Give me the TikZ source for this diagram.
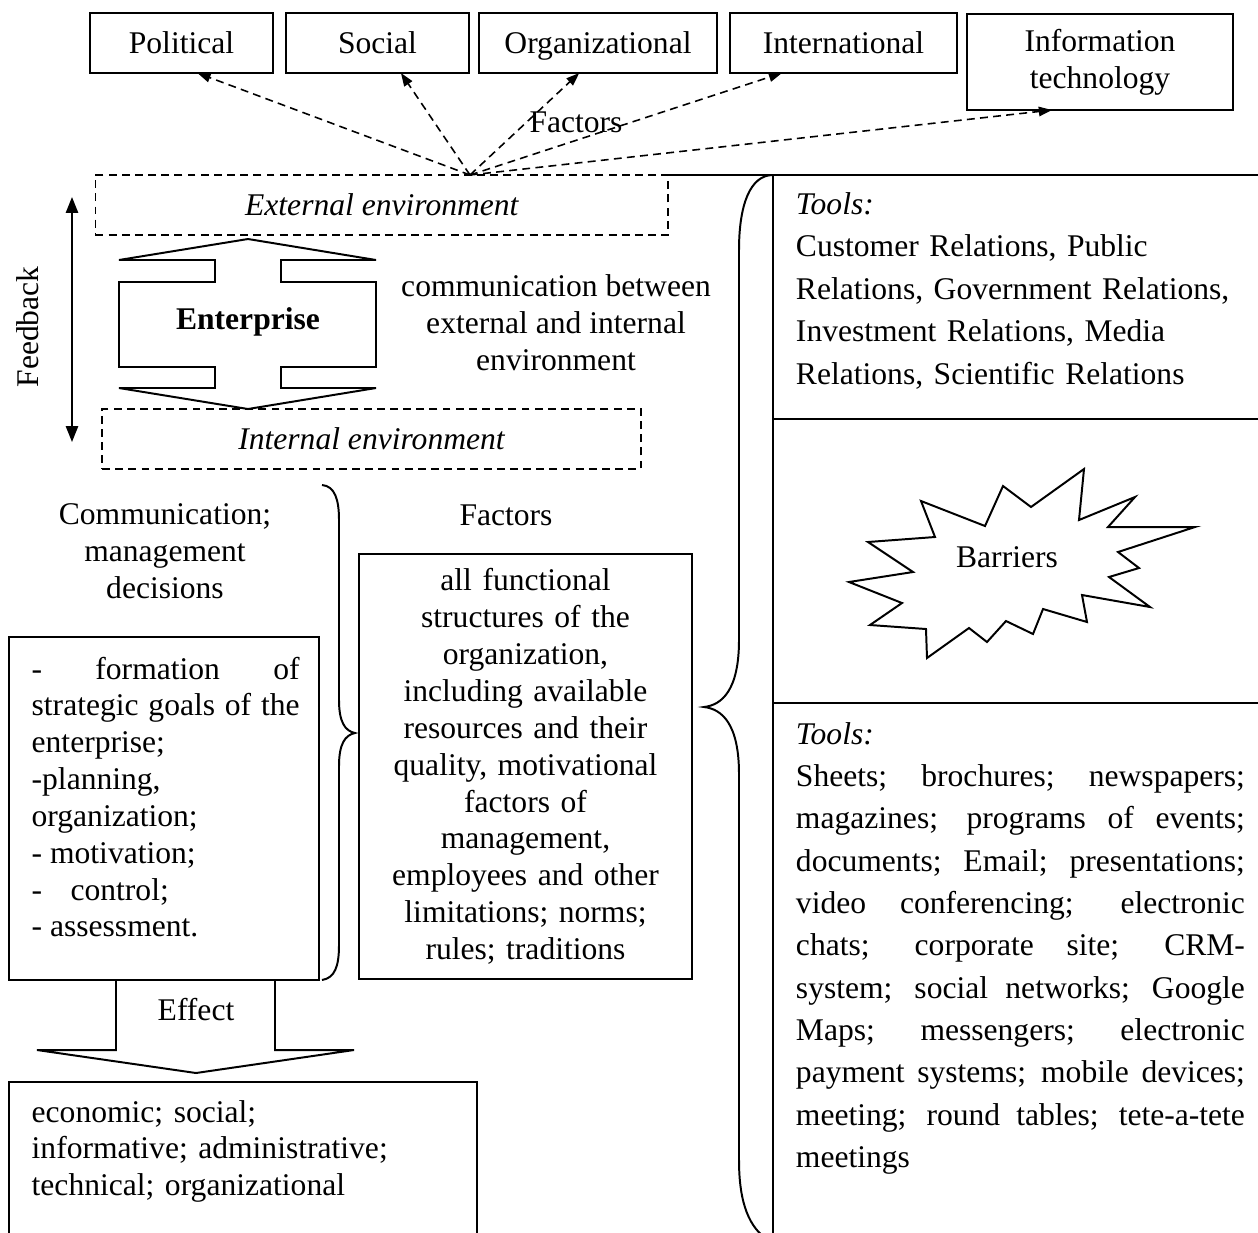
\documentclass[tikz,border=0pt]{standalone}
\usepackage{fontspec}
\setmainfont{Liberation Serif}
\usepackage{xcolor}
\usepackage[]{tikz}
\usetikzlibrary{positioning,calc}
\usetikzlibrary{arrows.meta}
\tikzset{factor node/.style={draw,line width=0.75pt,minimum height=22.8pt,inner sep=0pt,outer sep=0pt,text height=0.8em,text depth=0.14em}}
\tikzset{env node/.style={draw,dash pattern=on 3pt off 2pt,line width=0.6pt,minimum height=22.8pt,inner sep=0pt,outer sep=0pt}}
\tikzset{panel node/.style={draw,line width=0.75pt,minimum width=185.8pt,inner sep=0pt,outer sep=0pt,anchor=north west}}
\tikzset{text node/.style={inner sep=0pt,anchor=base west}}
\tikzset{factor line/.style={dash pattern=on 3pt off 2pt,line width=0.6pt,-{Triangle[length=5pt,width=3.6pt]}}}

\begin{document}
\fontsize{12}{14}\selectfont
\begin{tikzpicture}[x=0.38pt,y=-0.38pt,line width=0.75pt]
      \useasboundingbox (0,0) rectangle (1258,1232);
      % factors
      \node[factor node, minimum width=69.5pt] (pol) at (181.5,43) {Political};
      \node[factor node, minimum width=69.5pt] (soc) at (377.5,43) {Social};
      \node[factor node, minimum width=90.4pt] (org) at (598,43) {Organizational};
      \node[factor node, minimum width=86.3pt] (int) at (843.5,43) {International};
      \node[factor node, minimum width=101pt, minimum height=36.5pt, align=center, text height=, text depth=] (it) at (1100,62) {Information\\technology};
      \coordinate (fo) at (470,175);
      \draw[factor line] (fo) -- (pol.-62);
      \draw[factor line] (fo) -- (soc.-52);
      \draw[factor line] (fo) -- (org.-122);
      \draw[factor line] (fo) -- (int.-154);
      \draw[factor line] (fo) -- (it.-135.6);
      \node (fl) at (576,122) {Factors};

      % environment
      \node[env node, minimum width=217.6pt, font=\itshape] (ext) at (381.8,205) {External environment};
      \node[env node, minimum width=204.8pt, font=\itshape] (inn) at (371.5,439) {Internal environment};
      \node[font=\bfseries] (ent) at (248,322) {Enterprise};
      \draw (248,239) -- (376,260) -- (281,260) -- (281,282) -- (376,282) -- (376,367) -- (281,367)
            -- (281,388) -- (376,388) -- (248,409) -- (119,388) -- (215,388) -- (215,367) -- (119,367)
            -- (119,282) -- (215,282) -- (215,260) -- (119,260) -- cycle;
      \node[align=center] (comm) at (556,323) {communication between\\external and internal\\environment};
      \coordinate (fbtop) at (72,197);
      \coordinate (fbbot) at (72,442);
      \draw[{Triangle[length=6pt,width=4.6pt]}-{Triangle[length=6pt,width=4.6pt]}] (fbtop) -- (fbbot);
      \node[rotate=90] (fb) at (28,327) {Feedback};

      % left part
      \node[align=center] (dec) at (165,551) {Communication;\\management\\decisions};
      \node[draw, minimum width=117.7pt, minimum height=130.3pt, inner sep=0pt, outer sep=0pt] (lbox) at (164.2,808.5) {};
      \node[text node, text width=101.8pt, align=justify] (ltext) at (30.7,679)
            {- formation of\linebreak strategic goals of the\linebreak enterprise;\\ -planning,\\ organization;\\
             - motivation;\\ -\hspace{0.9em}control;\\ - assessment.};
      \draw (322,485) .. controls (335,486) and (339,500) .. (339,520) -- (339,700)
            .. controls (339,722) and (345,731) .. (355,733) .. controls (345,735) and (339,744) .. (339,766)
            -- (339,945) .. controls (339,966) and (335,978) .. (322,980);
      \node (fac) at (506,515) {Factors};
      \node[draw, text width=120.5pt, inner xsep=3pt, inner ysep=0pt, outer sep=0pt, minimum height=161.5pt, align=center] (fbox) at (525.5,766.5)
            {all functional\\ structures of the\\ organization,\\ including available\\ resources and their\\ quality, motivational\\
             factors of\\ management,\\ employees and other\\ limitations; norms;\\ rules; traditions};
      \draw (116,980) -- (116,1050) -- (37,1050) -- (196,1073) -- (354,1050) -- (275,1050) -- (275,980);
      \node (eff) at (196,1010) {Effect};
      \node[draw, anchor=north west, minimum width=177.6pt, minimum height=62pt, inner sep=0pt, outer sep=0pt] (ebox) at (9.3,1082) {};
      \node[text node, text width=170pt, align=left] (etext) at (30.7,1122)
            {economic; social;\\ informative; administrative;\\ technical; organizational};

      % right part
      \node[panel node, minimum height=92.7pt] (crbox) at (773,175) {};
      \node[panel node, minimum height=107.9pt, below=0pt of crbox] (brbox) {};
      \node[panel node, minimum height=206pt, below=0pt of brbox] (mbox) {};
      \draw (ext.north east) -- (crbox.north west);
      \node[text node, text width=170.6pt, align=left, font=\fontsize{12}{16.2}\selectfont] (crtext) at (795,214)
            {\textit{Tools:}\\ Customer Relations, Public\\ Relations, Government Relations,\\ Investment Relations, Media\\ Relations, Scientific Relations};
      \draw (1084,469) -- (1079,520) -- (1135,497) -- (1108,527) -- (1195,527) -- (1118,552) -- (1139,568)
            -- (1109,577) -- (1150,607) -- (1082,595) -- (1087,622) -- (1043,609) -- (1033,634) -- (1006,621)
            -- (987,642) -- (969,628) -- (927,658) -- (926,629) -- (870,625) -- (902,603) -- (849,582)
            -- (913,572) -- (868,542) -- (935,537) -- (921,501) -- (985,526) -- (1003,486) -- (1031,507) -- cycle;
      \node (bar) at (1007,557) {Barriers};
      \node[text node, text width=170.6pt, align=justify, font=\fontsize{12}{16.1}\selectfont] (mtext) at (795,744)
            {\textit{Tools:}\\ Sheets; brochures; newspapers;\linebreak magazines; programs of events;\linebreak
             documents; Email; presentations;\linebreak video conferencing; electronic\linebreak
             chats; corporate site; CRM-\linebreak system; social networks; Google\linebreak
             Maps; messengers; electronic\linebreak payment systems; mobile devices;\linebreak
             meeting; round tables; tete-a-tete\linebreak meetings};
      \draw (773,175) .. controls (750,175) and (739,205) .. (739,250) -- (739,640)
            .. controls (739,690) and (722,705) .. (704,707) .. controls (722,709) and (739,724) .. (739,774)
            -- (739,1160) .. controls (739,1205) and (750,1228) .. (768,1240);
    \end{tikzpicture}
\end{document}
